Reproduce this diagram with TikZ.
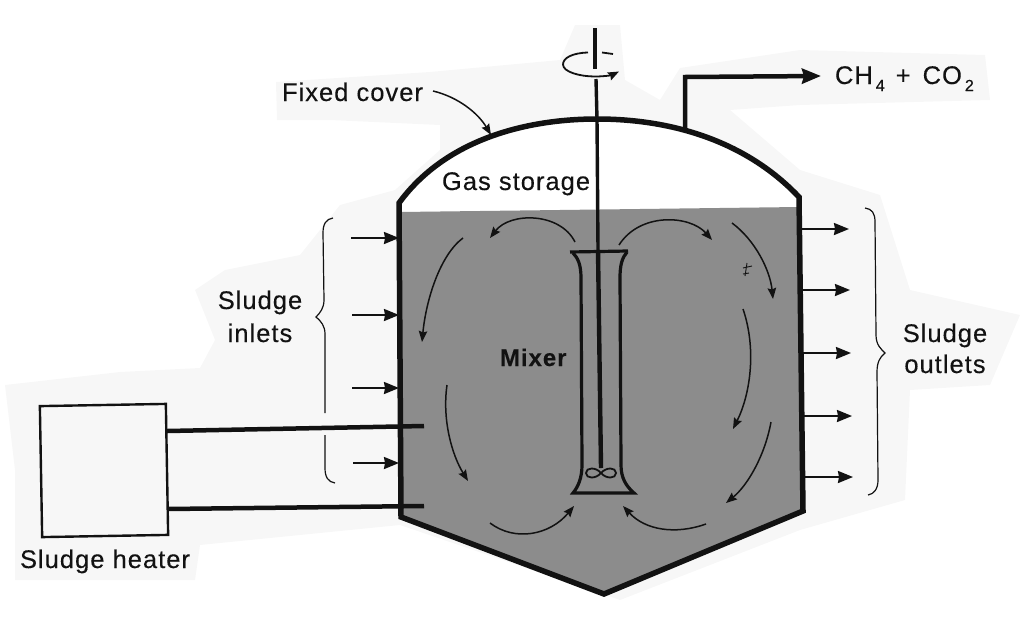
\documentclass[tikz,border=0pt]{standalone}
\usepackage{fontspec}
\setmainfont[LetterSpace=4,FakeBold=0.25]{Liberation Sans}
\usetikzlibrary{arrows.meta}
\definecolor{sludgegray}{gray}{0.55}
\definecolor{ghostgray}{gray}{0.97}
\definecolor{inkblack}{gray}{0.07}
\newcommand{\lowidx}[1]{\hspace{3pt}\raisebox{-7pt}{\fontsize{16}{16}\selectfont #1}}
\tikzset{
  lbl/.style={anchor=base west,inner sep=0pt,outer sep=0pt,text=inkblack,font=\fontsize{25.5}{25.5}\selectfont},
  centerlbl/.style={anchor=base,inner sep=0pt,outer sep=0pt,text=inkblack,font=\fontsize{25.5}{25.5}\selectfont},
  wall/.style={draw=inkblack,line width=5.5pt,line join=miter},
  flowarrow/.style={draw=inkblack,line width=1.5pt,-{Stealth[length=11pt,width=8.5pt,inset=1.5pt]}},
  portarrow/.style={draw=inkblack,line width=2pt,-{Stealth[length=15pt,width=12pt,inset=1pt]}},
  heaterpipe/.style={draw=inkblack,line width=4.5pt},
  bracepath/.style={draw=inkblack,line width=1.2pt},
  ghost/.style={fill=ghostgray,draw=none},
}
\begin{document}
\begin{tikzpicture}[x=1pt,y=-1pt]
\useasboundingbox (0,0) rectangle (1024,616);
% faint scan show-through
\fill[ghost] (5,385) -- (120,372) -- (200,368) -- (215,340) -- (195,290) -- (225,270) -- (300,255) -- (340,205) -- (395,190) -- (440,150) -- (440,125) -- (330,120) -- (277,120) -- (276,82) -- (430,72) -- (560,60) -- (575,25) -- (620,25) -- (625,80) -- (660,100) -- (680,68) -- (800,50) -- (985,55) -- (990,100) -- (800,105) -- (730,110) -- (800,170) -- (880,195) -- (910,290) -- (1020,315) -- (990,385) -- (910,390) -- (905,500) -- (800,530) -- (620,600) -- (400,525) -- (200,545) -- (195,580) -- (15,580) -- (15,470) -- cycle;
% gas space and sludge
\fill[white] (399,203) .. controls (445,140) and (525,119) .. (597,119) .. controls (670,119) and (745,140) .. (799,197) -- (799,208) -- (400,212) -- cycle;
\fill[sludgegray] (400,212) -- (799,207) -- (803,511) -- (604,593) -- (402,517) -- cycle;
% heater
\node[draw=inkblack,line width=2.4pt,fill=ghostgray,minimum width=126pt,minimum height=131pt,rotate=1,inner sep=0pt] (heater) at (104,470.5) {};
\coordinate (pipeAout) at (167,431);
\coordinate (pipeAin) at (424,426);
\coordinate (pipeBout) at (168,509);
\coordinate (pipeBin) at (424,506);
\draw[heaterpipe] (pipeAout) -- (pipeAin);
\draw[heaterpipe] (pipeBout) -- (pipeBin);
% tank outline
\draw[wall] (604,594) -- (401,517) -- (399,203) .. controls (445,140) and (525,119) .. (597,119) .. controls (670,119) and (745,140) .. (799,197) -- (803,511) -- cycle;
% gas outlet
\coordinate (gasA) at (685,128);
\coordinate (gasB) at (685,77);
\coordinate (gasC) at (821,76);
\draw[draw=inkblack,line width=4.5pt,-{Stealth[length=19pt,width=15pt,inset=2pt]}] (gasA) -- (gasB) -- (gasC);
% shaft
\coordinate (shaftTop) at (595,28);
\coordinate (shaftGapA) at (595,69);
\coordinate (shaftGapB) at (596,79);
\coordinate (shaftDome) at (597,119);
\coordinate (shaftTube) at (598,250);
\coordinate (shaftEnd) at (601,468);
\draw[inkblack,line width=3.4pt] (shaftTop) -- (shaftGapA);
\draw[inkblack,line width=3.4pt] (shaftGapB) -- (shaftDome) -- (shaftTube);
\draw[inkblack,line width=4.4pt] (shaftTube) -- (shaftEnd);
% rotation sign
\draw[flowarrow,line width=1.8pt] (588,52.5) .. controls (572,53) and (563,58) .. (563,64.5) .. controls (563,72) and (580,76.5) .. (595,76.5) .. controls (605,76.5) and (612,75) .. (619,71.5);
\draw[inkblack,line width=1.8pt] (602,52.5) -- (613,54);
% draft tube
\draw[inkblack,line width=3.2pt] (570,252) -- (628,251);
\draw[inkblack,line width=3.2pt] (573,253) .. controls (578,258) and (581,265) .. (581,278) -- (582,465) .. controls (582,478) and (578,487) .. (573,493) -- (634,493) .. controls (626,486) and (621,478) .. (621,465) -- (620,278) .. controls (620,265) and (622,258) .. (627,252);
% impeller
\draw[inkblack,line width=1.8pt] (601,473) .. controls (596,467) and (586,467) .. (586,473) .. controls (586,479) and (596,479) .. (601,473) .. controls (606,467) and (616,467) .. (616,473) .. controls (616,479) and (606,479) .. (601,473);
% circulation
\draw[flowarrow] (575,242) .. controls (560,212) and (510,212) .. (490,238);
\draw[flowarrow] (619,245) .. controls (640,212) and (690,215) .. (712,240);
\draw[flowarrow] (463,238) .. controls (440,255) and (426,300) .. (422,342);
\draw[flowarrow] (732,223) .. controls (755,240) and (770,270) .. (773,299);
\draw[flowarrow] (743,309) .. controls (757,350) and (750,395) .. (733,429);
\draw[flowarrow] (771,422) .. controls (765,455) and (748,485) .. (726,503);
\draw[flowarrow] (706,524) .. controls (675,535) and (645,530) .. (623,506);
\draw[flowarrow] (490,523) .. controls (515,542) and (550,535) .. (574,506);
\draw[flowarrow] (447,385) .. controls (442,420) and (452,455) .. (468,481);
% speck
\draw[inkblack,line width=0.9pt] (747,263) -- (745,276) (743,268) -- (752,266) (743,274) -- (749,273);
% inlets
\foreach \n/\y/\x in {A/238/351,B/315/352,C/388/352,D/463/353}{
  \coordinate (in\n) at (\x,\y);
  \coordinate (inend\n) at (399,\y);
  \draw[portarrow] (in\n) -- (inend\n);
}
% outlets
\foreach \n/\y/\x/\w in {A/229/849/800,B/290/850/801,C/353/851/801,D/416/852/802,E/477/853/803}{
  \coordinate (out\n) at (\w,\y);
  \coordinate (outend\n) at (\x,\y);
  \draw[portarrow] (out\n) -- (outend\n);
}
% fixed cover leader
\coordinate (leaderA) at (433,91);
\coordinate (leaderB) at (491,135);
\draw[flowarrow] (leaderA) .. controls (458,97) and (478,113) .. (leaderB);
% braces
\draw[bracepath] (333,218) .. controls (326,219) and (323,224) .. (323,233) -- (324,300) .. controls (324,308) and (320,313) .. (316,317) .. controls (321,321) and (325,326) .. (325,334) -- (325,413);
\draw[bracepath] (325,435) -- (325,468) .. controls (325,477) and (328,482) .. (335,483);
\draw[bracepath] (865,208) .. controls (872,209) and (875,213) .. (875,222) -- (876,335) .. controls (876,345) and (881,349) .. (885,353) .. controls (880,357) and (877,362) .. (877,372) -- (878,480) .. controls (878,489) and (874,494) .. (868,495);
% labels
\node[lbl] (fixedcover) at (282,101) {Fixed cover};
\node[lbl] (gasstorage) at (442,190) {Gas storage};
\node[lbl] (product) at (835,84) {CH\lowidx{4}\hspace{11pt}+\hspace{12pt}CO\lowidx{2}};
\node[centerlbl] (inletsA) at (260,309) {Sludge};
\node[centerlbl] (inletsB) at (260,342) {inlets};
\node[centerlbl] (outletsA) at (945,342) {Sludge};
\node[centerlbl] (outletsB) at (945,373) {outlets};
\node[lbl,font=\fontsize{24}{24}\selectfont\bfseries] (mixer) at (500,366) {Mixer};
\node[lbl] (heaterlabel) at (20,568) {Sludge heater};
\end{tikzpicture}
\end{document}
